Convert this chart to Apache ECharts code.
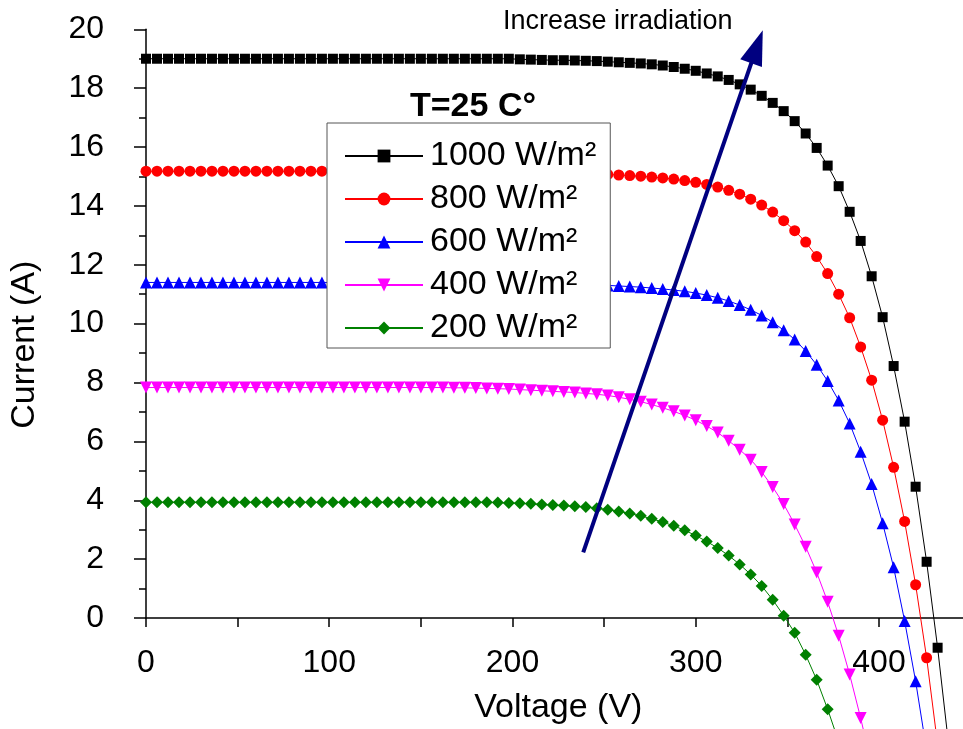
<!DOCTYPE html>
<html>
<head>
<meta charset="utf-8">
<script src="https://cdn.jsdelivr.net/npm/echarts@6/dist/echarts.min.js"></script>
<style>html,body{margin:0;padding:0;background:#fff}#c{width:963px;height:729px}</style>
</head>
<body>
<div id="c"></div>
<script>
// Voltage points (V)
var voltage = [0,6,12,18,24,30,36,42,48,54,60,66,72,78,84,90,96,102,108,114,120,126,132,138,144,150,156,162,168,174,180,186,192,198,204,210,216,222,228,234,240,246,252,258,264,270,276,282,288,294,300,306,312,318,324,330,336,342,348,354,360,366,372,378,384,390,396,402,408,414,420,426,432,438];

var names = ['1000 W/m²','800 W/m²','600 W/m²','400 W/m²','200 W/m²'];

var i1000 = [19.0,19.0,19.0,19.0,19.0,19.0,19.0,19.0,19.0,19.0,19.0,19.0,19.0,19.0,19.0,19.0,19.0,19.0,19.0,19.0,19.0,19.0,19.0,19.0,19.0,19.0,19.0,19.0,19.0,19.0,19.0,19.0,19.0,19.0,
  18.98,18.97,18.96,18.95,18.95,18.94,18.93,18.92,18.90,18.88,18.86,18.84,18.81,18.77,18.72,18.66,18.59,18.50,18.40,18.28,18.13,17.95,17.74,17.50,17.22,16.88,16.46,15.97,15.37,14.67,13.80,12.81,11.61,10.22,8.56,6.67,4.46,1.91,-1.01,-4.30];

var i800 = [15.18,15.18,15.18,15.18,15.18,15.18,15.18,15.18,15.18,15.18,15.18,15.18,15.18,15.18,15.18,15.18,15.18,15.18,15.18,15.18,15.18,15.18,15.18,15.18,15.18,15.18,15.18,15.18,15.18,15.18,15.18,15.18,15.18,
  15.17,15.16,15.15,15.13,15.12,15.11,15.10,15.09,15.08,15.07,15.05,15.03,15.01,14.98,14.95,14.91,14.86,14.80,14.73,14.64,14.53,14.40,14.23,14.03,13.79,13.50,13.16,12.77,12.28,11.70,11.00,10.20,9.21,8.08,6.72,5.12,3.28,1.13,-1.35,-4.30];

var i600 = [11.40,11.40,11.40,11.40,11.40,11.40,11.40,11.40,11.40,11.40,11.40,11.40,11.40,11.40,11.40,11.40,11.40,11.40,11.40,11.40,11.40,11.40,11.40,11.40,11.40,11.40,11.40,11.40,11.40,11.40,
  11.39,11.39,11.38,11.38,11.38,11.37,11.37,11.36,11.35,11.34,11.33,11.32,11.30,11.28,11.26,11.24,11.21,11.18,11.14,11.10,11.04,10.97,10.88,10.77,10.63,10.47,10.28,10.05,9.78,9.46,9.07,8.60,8.05,7.39,6.61,5.65,4.55,3.22,1.72,-0.10,-2.15,-4.50];

var i400 = [7.83,7.83,7.83,7.83,7.83,7.83,7.83,7.83,7.83,7.83,7.83,7.83,7.83,7.83,7.83,7.83,7.83,7.83,7.83,7.83,7.83,7.83,7.83,7.83,7.83,7.83,7.83,7.83,
  7.82,7.82,7.81,7.80,7.79,7.78,7.76,7.74,7.72,7.70,7.68,7.66,7.63,7.60,7.56,7.50,7.43,7.35,7.25,7.14,7.02,6.88,6.72,6.52,6.30,6.02,5.72,5.38,4.96,4.45,3.87,3.18,2.42,1.55,0.55,-0.60,-1.92,-3.40,-5.00];

var i200 = [3.93,3.93,3.93,3.93,3.93,3.93,3.93,3.93,3.93,3.93,3.93,3.93,3.93,3.93,3.93,3.93,3.93,3.93,3.93,3.93,3.93,3.93,3.93,3.93,3.93,3.93,3.93,3.93,3.93,3.93,3.93,3.93,
  3.92,3.91,3.90,3.88,3.86,3.84,3.82,3.80,3.77,3.73,3.68,3.62,3.55,3.47,3.37,3.26,3.13,2.98,2.80,2.60,2.38,2.12,1.82,1.48,1.09,0.62,0.08,-0.50,-1.25,-2.10,-3.10,-4.20];

var yTicks = [0,2,4,6,8,10,12,14,16,18,20];
var xTicks = [0,100,200,300,400];

// annotation arrow in data units: shaft start, arrow-head centre
var arrowStart = [238.6, 2.23];
var arrowEnd = [333.4, 19.41];

var currents = [i1000, i800, i600, i400, i200];
var colors = ['#000000','#ff0000','#0000ff','#ff00ff','#008000'];
var symbols = ['rect','circle','triangle','triangle','diamond'];
var symSizes = [10, 11, 12, 12, 12];
var symRot = [0, 0, 0, 180, 0];

var FONT = '"Liberation Sans", Arial, sans-serif';

function pairs(arr){ return arr.map(function(c,i){ return [voltage[i], c]; }); }

var series = currents.map(function(cur, k){
  return {
    name: names[k],
    type: 'line',
    data: pairs(cur),
    clip: false,
    symbol: symbols[k],
    symbolSize: symSizes[k],
    symbolRotate: symRot[k],
    showAllSymbol: true,
    color: colors[k],
    itemStyle: {color: colors[k]},
    lineStyle: {color: colors[k], width: 1},
    animation: false,
    silent: true,
    z: 2
  };
});

series[4].markLine = {
  silent: true,
  animation: false,
  symbol: ['none','none'],
  label: {show: false},
  lineStyle: {color: '#000080', width: 4, type: 'solid'},
  data: [[{coord: arrowStart}, {coord: arrowEnd}]]
};
series[4].markPoint = {
  silent: true,
  animation: false,
  label: {show: false},
  itemStyle: {color: '#000080'},
  data: [{coord: arrowEnd, symbol: 'triangle', symbolSize: [23, 35], symbolRotate: -19.5}]
};

var chart = echarts.init(document.getElementById('c'), null, {renderer: 'canvas'});
chart.setOption({
  backgroundColor: '#ffffff',
  animation: false,
  textStyle: {fontFamily: FONT},
  grid: {left: 146, top: 29.3, width: 824.6, height: 588.7, containLabel: false, outerBoundsMode: 'none'},
  xAxis: {
    type: 'value', min: 0, max: 450, interval: 50,
    name: 'Voltage (V)', nameLocation: 'middle', nameGap: 73,
    nameTextStyle: {fontSize: 34, color: '#000', fontFamily: FONT},
    axisLine: {onZero: false, lineStyle: {color: '#000', width: 1.5}},
    axisTick: {show: true, inside: false, length: 9, lineStyle: {color: '#000', width: 1.5}},
    axisLabel: {fontSize: 32, color: '#000', margin: 29, fontFamily: FONT, hideOverlap: false,
      formatter: function(v){ return xTicks.indexOf(v) >= 0 ? String(v) : ''; }},
    splitLine: {show: false}
  },
  yAxis: {
    type: 'value', min: 0, max: 20, interval: 2,
    name: 'Current (A)', nameLocation: 'middle', nameGap: 104,
    nameTextStyle: {fontSize: 34, color: '#000', fontFamily: FONT, padding: [0, 42, 0, 0]},
    axisLine: {onZero: false, lineStyle: {color: '#000', width: 1.5}},
    axisTick: {show: true, inside: false, length: 12, lineStyle: {color: '#000', width: 1.5}},
    minorTick: {show: true, splitNumber: 2, length: 7, lineStyle: {color: '#000', width: 1.5}},
    axisLabel: {fontSize: 32, color: '#000', margin: 42, fontFamily: FONT,
      formatter: function(v){ return yTicks.indexOf(v) >= 0 ? String(v) : ''; }},
    splitLine: {show: false}
  },
  legend: {
    show: true,
    data: names,
    orient: 'vertical',
    left: 327, top: 123,
    backgroundColor: '#ffffff',
    borderColor: '#555',
    borderWidth: 1,
    borderRadius: 0,
    padding: [16, 14, 3, 17],
    itemWidth: 78, itemHeight: 16, itemGap: 9,
    textStyle: {fontSize: 34, lineHeight: 34, color: '#000', fontFamily: FONT, padding: [0,0,0,2]},
    selectedMode: false,
    z: 10
  },
  graphic: [
    {type: 'text', x: 410, y: 107, z: 20,
      style: {text: 'T=25 C°', font: 'bold 34px ' + FONT, fill: '#000', align: 'left', verticalAlign: 'middle'}},
    {type: 'text', x: 503, y: 22, z: 20,
      style: {text: 'Increase irradiation', font: '27px ' + FONT, fill: '#000', align: 'left', verticalAlign: 'middle'}}
  ],
  series: series
});
</script>
</body>
</html>
